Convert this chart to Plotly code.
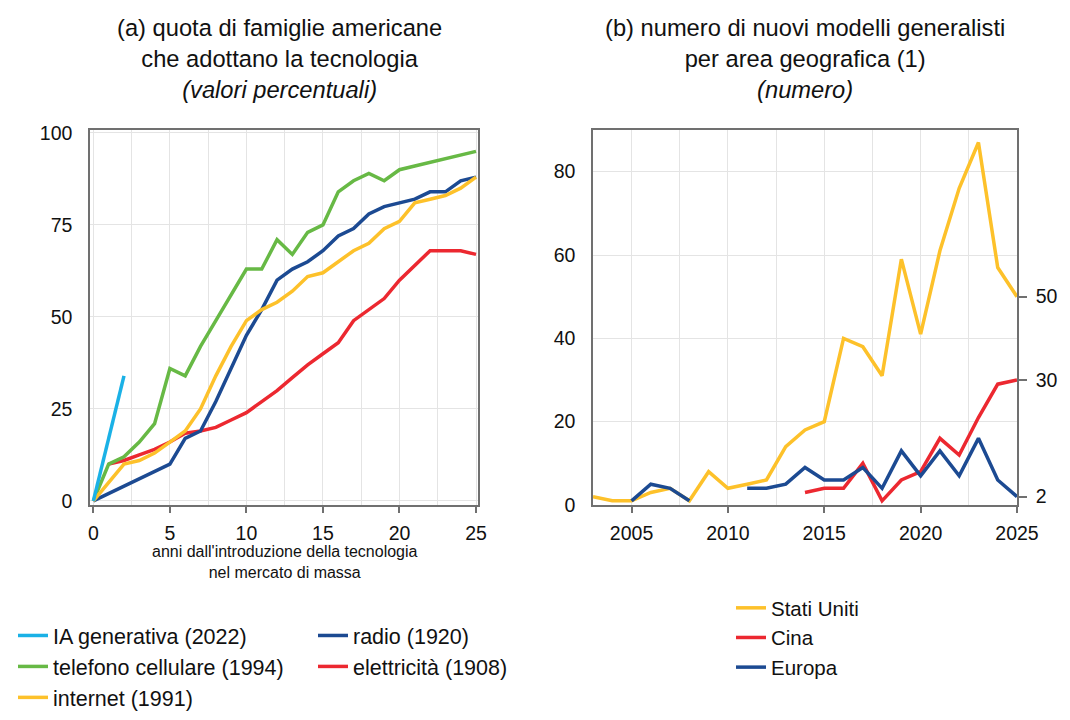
import plotly.graph_objects as go

# (a) adoption share, years since mass-market introduction
anni = list(range(0, 26))
ia_anni = [0, 2]
ia_generativa = [0, 34]
telefono = [0, 10, 12, 16, 21, 36, 34, 42, 49, 56, 63, 63, 71, 67, 73, 75, 84, 87, 89, 87, 90, 91, 92, 93, 94, 95]
internet = [0, 5, 10, 11, 13, 16, 19, 25, 34, 42, 49, 52, 54, 57, 61, 62, 65, 68, 70, 74, 76, 81, 82, 83, 85, 88]
radio = [0, 2, 4, 6, 8, 10, 17, 19, 27, 36, 45, 52, 60, 63, 65, 68, 72, 74, 78, 80, 81, 82, 84, 84, 87, 88]
elet_anni = list(range(1, 26))
elettricita = [10, 11, 12.5, 14, 16, 18.4, 19, 20, 22, 24, 27, 30, 33.5, 37, 40, 43, 49, 52, 55, 60, 64, 68, 68, 68, 67]

# (b) new general-purpose models by region
anni_us = list(range(2003, 2026))
stati_uniti = [2, 1, 1, 3, 4, 1, 8, 4, 5, 6, 14, 18, 20, 40, 38, 31, 59, 41, 61, 76, 87, 57, 50]
anni_cina = list(range(2014, 2026))
cina = [3, 4, 4, 10, 1, 6, 8, 16, 12, 21, 29, 30]
anni_eu = [2005, 2006, 2007, 2008, 2009, 2010] + list(range(2011, 2026))
europa = [1, 5, 4, 1, None, None, 4, 4, 5, 9, 6, 6, 9, 4, 13, 7, 13, 7, 16, 6, 2]

CYAN = "#1AB1E6"
GREEN = "#67B945"
YELLOW = "#FDC12A"
BLUE = "#1C4A92"
RED = "#EC2830"

FONT = "Liberation Sans, Arial, sans-serif"
GRID = "#E4E4E4"
AXIS = "#707070"
# the page body keeps its default 8px margin, so the figure is drawn 8px in
OFF = 8
W, H = 1070 - OFF, 720 - OFF
LW = 3.5


def px(x):
    return (x - OFF) / W


def py(y):
    return 1 - (y - OFF) / H


fig = go.Figure()

# left panel traces (drawing order), legend assignment
left = [
    (elet_anni, elettricita, "elettricità (1908)", RED, "legend2", 2),
    (anni, radio, "radio (1920)", BLUE, "legend2", 1),
    (anni, telefono, "telefono cellulare (1994)", GREEN, "legend", 2),
    (anni, internet, "internet (1991)", YELLOW, "legend", 3),
    (ia_anni, ia_generativa, "IA generativa (2022)", CYAN, "legend", 1),
]
for xs, ys, name, col, leg, rank in left:
    fig.add_trace(go.Scatter(
        x=xs, y=ys, name=name, mode="lines", line=dict(color=col, width=LW),
        xaxis="x", yaxis="y", legend=leg, legendrank=rank, legendgroup=name,
    ))

fig.add_trace(go.Scatter(x=anni_us, y=stati_uniti, name="Stati Uniti", mode="lines",
                         line=dict(color=YELLOW, width=LW), xaxis="x2", yaxis="y2",
                         legend="legend3", legendrank=1, legendgroup="us"))
fig.add_trace(go.Scatter(x=anni_cina, y=cina, name="Cina", mode="lines",
                         line=dict(color=RED, width=LW), xaxis="x2", yaxis="y2",
                         legend="legend3", legendrank=2, legendgroup="cn"))
fig.add_trace(go.Scatter(x=anni_eu, y=europa, name="Europa", mode="lines",
                         line=dict(color=BLUE, width=LW), xaxis="x2", yaxis="y3",
                         legend="legend3", legendrank=3, legendgroup="eu"))

ydom = [py(505), py(130)]
tickfont = dict(family=FONT, size=19.5, color="#111111")

common_x = dict(showline=True, linecolor=AXIS, linewidth=1.5, mirror=True,
                ticks="outside", ticklen=6, tickcolor=AXIS, tickwidth=1.5,
                ticklabelstandoff=4, tickfont=tickfont, showgrid=True, gridcolor=GRID,
                zeroline=False, dtick=5, automargin=False,
                minor=dict(dtick=2.5, showgrid=True, gridcolor=GRID, ticks=""))
common_y = dict(showline=True, linecolor=AXIS, linewidth=1.5, mirror=True,
                ticks="", tickfont=tickfont, showgrid=True, gridcolor=GRID,
                zeroline=False, ticklabelstandoff=12, automargin=False)


def legstyle(size):
    return dict(xanchor="left", yanchor="top", orientation="v",
                font=dict(family=FONT, size=size, color="#111111"),
                tracegroupgap=0, bgcolor="rgba(0,0,0,0)")


fig.update_layout(
    width=W, height=H,
    margin=dict(l=0, r=0, t=0, b=0, autoexpand=False),
    paper_bgcolor="white", plot_bgcolor="white",
    font=dict(family=FONT, color="#111111"),
    xaxis=dict(domain=[px(90), px(478)], range=[-0.22, 25.13], tick0=0, anchor="y", **common_x),
    yaxis=dict(domain=ydom, range=[-1.1, 100.8], tickvals=[0, 25, 50, 75, 100], anchor="x", **common_y),
    xaxis2=dict(domain=[px(593), px(1017)], range=[2003, 2025], tick0=2005, anchor="y2", **common_x),
    yaxis2=dict(domain=ydom, range=[0, 90], dtick=20, anchor="x2", **common_y),
    yaxis3=dict(overlaying="y2", side="right", anchor="x2", range=[0, 90],
                tickvals=[stati_uniti[-1], cina[-1], europa[-1]],
                showline=True, linecolor=AXIS, linewidth=1.5, showgrid=False, zeroline=False,
                ticks="outside", ticklen=8, tickcolor=AXIS, tickwidth=1.5, automargin=False,
                ticklabelstandoff=5, tickfont=tickfont),
    legend=dict(x=px(13), y=py(615), **legstyle(21.5)),
    legend2=dict(x=px(313), y=py(615), **legstyle(21.5)),
    legend3=dict(x=px(731), y=py(588), **legstyle(20.5)),
)

titles = [
    (279, "(a) quota di famiglie americane<br>che adottano la tecnologia<br><i>(valori percentuali)</i>"),
    (805, "(b) numero di nuovi modelli generalisti<br>per area geografica (1)<br><i>(numero)</i>"),
]
for xc, txt in titles:
    fig.add_annotation(x=px(xc), y=py(13), xref="paper", yref="paper",
                       xanchor="center", yanchor="top", showarrow=False, align="center",
                       text=txt, font=dict(family=FONT, size=23.7, color="#111111"))

fig.add_annotation(x=px(285), y=py(562), xref="paper", yref="paper",
                   xanchor="center", yanchor="middle", showarrow=False, align="center",
                   text="anni dall'introduzione della tecnologia<br>nel mercato di massa",
                   font=dict(family=FONT, size=16, color="#111111"))

fig.write_html("out.html")
